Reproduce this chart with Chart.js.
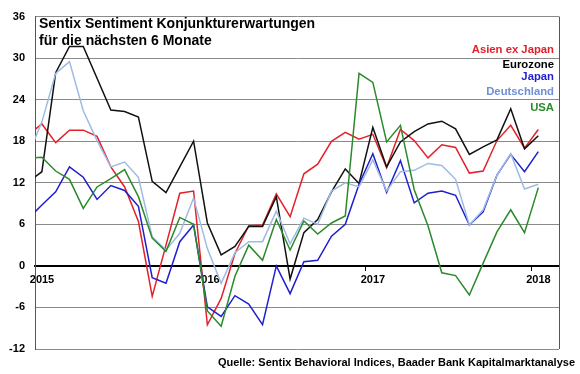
<!DOCTYPE html>
<html>
<head>
<meta charset="utf-8">
<script src="https://cdn.jsdelivr.net/npm/chart.js@4.4.0/dist/chart.umd.min.js"></script>
<style>
html, body { margin: 0; padding: 0; background: #fff; }
#wrap { width: 580px; height: 374px; }
</style>
</head>
<body>
<div id="wrap"><canvas id="c" width="580" height="374"></canvas></div>
<script>
// monthly readings, Dec 2014 .. Jan 2018
const months = ['Dez 14',
    'Jan 15', 'Feb 15', 'Mrz 15', 'Apr 15', 'Mai 15', 'Jun 15', 'Jul 15', 'Aug 15', 'Sep 15', 'Okt 15', 'Nov 15', 'Dez 15',
    'Jan 16', 'Feb 16', 'Mrz 16', 'Apr 16', 'Mai 16', 'Jun 16', 'Jul 16', 'Aug 16', 'Sep 16', 'Okt 16', 'Nov 16', 'Dez 16',
    'Jan 17', 'Feb 17', 'Mrz 17', 'Apr 17', 'Mai 17', 'Jun 17', 'Jul 17', 'Aug 17', 'Sep 17', 'Okt 17', 'Nov 17', 'Dez 17',
    'Jan 18'];

const asien = [18.9, 20.5, 17.8, 19.6, 19.6, 18.7, 14.3, 11.4, 6.4, -4.4, 3.0, 10.5, 10.8,
    -8.5, -4.7, 1.8, 5.8, 5.9, 10.4, 7.1, 13.3, 14.7, 18.0, 19.3, 18.3,
    19.0, 14.2, 19.7, 18.1, 15.6, 17.5, 17.1, 13.4, 13.7, 18.1, 20.3, 17.0, 19.7];
const eurozone = [12.1, 13.6, 27.9, 31.7, 31.7, 27.1, 22.5, 22.3, 21.5, 12.2, 10.6, 14.3, 18.0,
    6.2, 1.6, 2.8, 5.7, 5.7, 10.0, -1.9, 4.8, 6.7, 10.7, 14.0, 11.9,
    20.0, 14.3, 17.9, 19.4, 20.5, 20.9, 19.8, 16.1, 17.2, 18.2, 22.7, 16.9, 18.8];
const japan = [6.8, 8.8, 10.7, 14.3, 12.8, 9.6, 11.6, 10.9, 8.6, -1.7, -2.5, 3.5, 5.9,
    -5.9, -7.3, -4.3, -5.5, -8.5, 0.0, -4.0, 0.6, 0.8, 4.3, 6.0, 11.8,
    16.2, 10.6, 15.2, 9.1, 10.5, 10.8, 10.2, 5.9, 7.8, 13.1, 16.1, 13.6, 16.5];
const deutschland = [16.0, 20.8, 27.8, 29.5, 22.4, 18.1, 14.3, 15.0, 12.8, 4.2, 2.3, 4.7, 9.8,
    2.5, -2.5, 1.9, 3.5, 3.5, 7.9, 3.2, 6.9, 6.0, 10.8, 12.0, 11.4,
    15.3, 10.8, 13.6, 13.8, 14.8, 14.5, 12.5, 5.9, 8.1, 13.1, 16.2, 11.1, 11.8];
const usa = [15.5, 15.7, 13.7, 12.5, 8.3, 11.4, 12.6, 13.9, 10.0, 4.0, 2.1, 7.0, 6.0,
    -6.5, -8.7, -1.5, 3.0, 0.8, 6.7, 2.3, 6.5, 4.6, 6.2, 7.2, 27.8,
    26.5, 17.9, 20.3, 11.0, 5.8, -1.0, -1.4, -4.2, 0.4, 4.9, 8.1, 4.8, 11.3];

const yearLabels = ['2015', '2016', '2017', '2018'];
const yTicks = [36, 30, 24, 18, 12, 6, 0, -6, -12];

const seriesNames = ['Asien ex Japan', 'Eurozone', 'Japan', 'Deutschland', 'USA'];
const lineColors = ['#e3212b', '#111111', '#1f1fcf', '#9dbbe3', '#2b8a2b'];
const textColors = ['#e3212b', '#000000', '#1f1fcf', '#6f8fd6', '#2b8a2b'];

const FONT = 'Arial, "Liberation Sans", sans-serif';

// each month sits in the middle of its slot; Jan 2015 starts at 0
function toPoints(values) {
    return values.map((v, i) => ({ x: i - 0.5, y: v }));
}

const allSeries = [asien, eurozone, japan, deutschland, usa];

const datasets = allSeries.map((vals, i) => ({
    label: seriesNames[i],
    data: toPoints(vals),
    borderColor: lineColors[i],
    borderWidth: 1.5,
    pointRadius: 0,
    tension: 0,
    fill: false
})).reverse();

const textPlugin = {
    id: 'texts',
    afterDraw(chart) {
        const ctx = chart.ctx;
        const a = chart.chartArea;
        ctx.save();
        // right frame line
        ctx.strokeStyle = '#555';
        ctx.lineWidth = 1;
        ctx.beginPath();
        ctx.moveTo(a.right + 0.5, a.top);
        ctx.lineTo(a.right + 0.5, a.bottom);
        ctx.stroke();

        // title
        ctx.fillStyle = '#000';
        ctx.textAlign = 'left';
        ctx.textBaseline = 'alphabetic';
        ctx.font = 'bold 14px ' + FONT;
        ctx.fillText('Sentix Sentiment Konjunkturerwartungen', 39, 28, 280);
        ctx.fillText('für die nächsten 6 Monate', 39, 45);

        // legend, right aligned
        ctx.textAlign = 'right';
        ctx.font = 'bold 11.3px ' + FONT;
        const baselines = [53, 68, 80, 95, 111];
        seriesNames.forEach((name, i) => {
            ctx.fillStyle = textColors[i];
            ctx.fillText(name, 554, baselines[i]);
        });

        // source
        ctx.fillStyle = '#000';
        ctx.font = 'bold 11px ' + FONT;
        ctx.fillText('Quelle: Sentix Behavioral Indices, Baader Bank Kapitalmarktanalyse', 575, 366, 358);
        ctx.restore();
    }
};

new Chart(document.getElementById('c'), {
    type: 'line',
    data: { datasets },
    options: {
        responsive: false,
        animation: false,
        devicePixelRatio: 1,
        layout: { padding: { top: 16, right: 21, bottom: 25, left: 0 } },
        plugins: {
            legend: { display: false },
            tooltip: { enabled: false }
        },
        scales: {
            x: {
                type: 'linear',
                position: { y: 0 },
                min: 0,
                max: 38,
                afterFit(scale) { scale.height = 0; },
                afterBuildTicks(scale) {
                    scale.ticks = yearLabels.map((_, i) => ({ value: i * 12 }));
                },
                ticks: {
                    autoSkip: false,
                    maxRotation: 0,
                    labelOffset: 7,
                    padding: 3,
                    color: '#000',
                    font: { family: FONT, size: 11, weight: 'bold' },
                    callback: (v) => yearLabels[v / 12]
                },
                grid: {
                    drawOnChartArea: false,
                    drawTicks: true,
                    tickLength: 4,
                    color: '#000'
                },
                border: { display: true, color: '#000', width: 2 }
            },
            y: {
                min: -12,
                max: 36,
                afterFit(scale) { scale.width = 35; },
                afterBuildTicks(scale) {
                    scale.ticks = yTicks.map(v => ({ value: v }));
                },
                ticks: {
                    padding: 10,
                    color: '#000',
                    font: { family: FONT, size: 11, weight: 'bold' }
                },
                grid: {
                    drawTicks: false,
                    color: (c) => c.tick && c.tick.value === 0 ? '#000' : '#8a8a8a',
                    lineWidth: (c) => c.tick && c.tick.value === 0 ? 2 : 1
                },
                border: { display: true, color: '#555', width: 1 }
            }
        }
    },
    plugins: [textPlugin]
});
</script>
</body>
</html>
